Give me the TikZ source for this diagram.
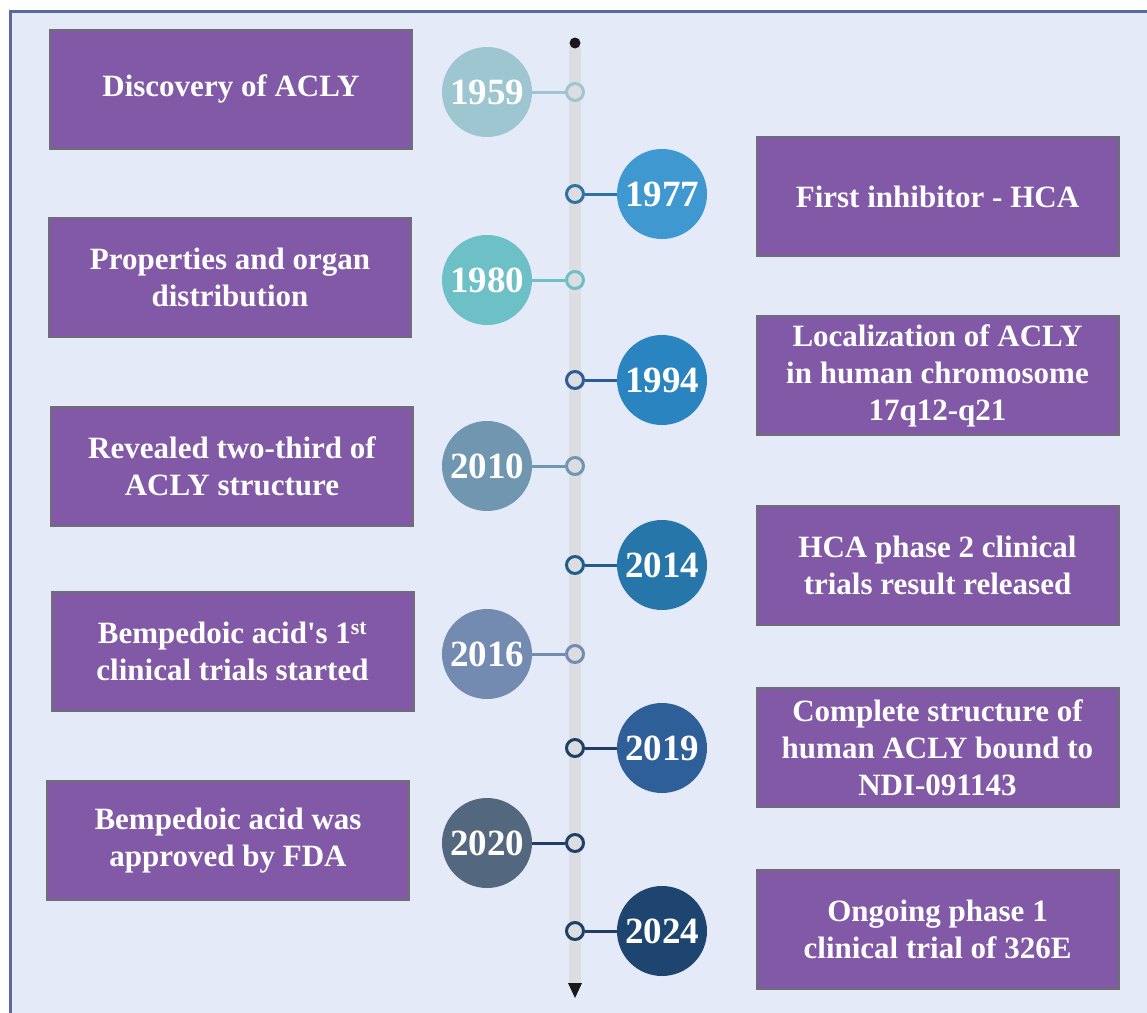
\documentclass[tikz,border=0pt]{standalone}
\usepackage{fontspec}
\setmainfont{Liberation Serif}[Ligatures=TeXOff]
\definecolor{bgcol}{HTML}{E4EAF8}
\definecolor{framecol}{HTML}{5A6A9E}
\definecolor{boxpurple}{HTML}{8259A6}
\definecolor{boxedge}{HTML}{6F6E74}
\definecolor{barcol}{HTML}{DCDDE0}
\definecolor{cA}{HTML}{9DC6D0}
\definecolor{cB}{HTML}{3F98D0}
\definecolor{cBl}{HTML}{2E72A3}
\definecolor{cC}{HTML}{6CC0C6}
\definecolor{cD}{HTML}{2A84C0}
\definecolor{cDl}{HTML}{2D5C96}
\definecolor{cE}{HTML}{7096B0}
\definecolor{cF}{HTML}{2676AA}
\definecolor{cFl}{HTML}{1F5E8A}
\definecolor{cG}{HTML}{738BB0}
\definecolor{cH}{HTML}{2F5F98}
\definecolor{cHl}{HTML}{1F3F68}
\definecolor{cI}{HTML}{53687F}
\definecolor{cIl}{HTML}{1F3F68}
\definecolor{cJ}{HTML}{1E456F}
\definecolor{cJl}{HTML}{1E3F66}
\begin{document}
\begin{tikzpicture}[x=1pt,y=-1pt,
  evbox/.style={draw=boxedge, line width=2pt, fill=boxpurple, minimum width=362pt, minimum height=119pt, text=white, font=\fontsize{31}{37}\selectfont\bfseries, align=center, inner sep=0pt},
  yr/.style={circle, minimum size=90pt, inner sep=0pt, text=white, font=\fontsize{37}{40}\selectfont\bfseries},
  ring/.style={circle, minimum size=17pt, inner sep=0pt, line width=3pt, fill=barcol},
  conn/.style={line width=3pt}]
\useasboundingbox (0,0) rectangle (1147,1012);
\begin{scope}
\clip (0,0) rectangle (1147,1012);
\draw[fill=bgcol, draw=framecol, line width=3pt] (10,11.5) rectangle (1170,1040);
\end{scope}
% timeline bar
\fill[barcol] (569,46) rectangle (581,984);
\node[circle, fill=black!90, minimum size=11pt, inner sep=0pt] (top) at (575,43) {};
\fill[black!90] (568,983) -- (582,983) -- (575,998) -- cycle;
% boxes left
\node[evbox] (b1959) at (231,89) {Discovery of ACLY};
\node[evbox] (b1980) at (230,277) {Properties and organ\\distribution};
\node[evbox] (b2010) at (232,466) {Revealed two-third of\\ACLY structure};
\node[evbox] (b2016) at (232.5,651) {Bempedoic acid's 1\textsuperscript{st}\\clinical trials started};
\node[evbox] (b2020) at (228,840.5) {Bempedoic acid was\\approved by FDA};
% boxes right
\node[evbox] (b1977) at (937.5,196.5) {First inhibitor - HCA};
\node[evbox] (b1994) at (937.5,375.5) {Localization of ACLY\\in human chromosome\\17q12-q21};
\node[evbox] (b2014) at (937.5,565.5) {HCA phase 2 clinical\\trials result released};
\node[evbox] (b2019) at (937.5,747.5) {Complete structure of\\human ACLY bound to\\NDI-091143};
\node[evbox] (b2024) at (937.5,929.5) {Ongoing phase 1\\clinical trial of 326E};
% year circles and rings
\foreach \nm/\yy/\cx/\cc/\lc in {1959/92/487/cA/cA, 1977/194/662/cB/cBl, 1980/280/487/cC/cC, 1994/380/662/cD/cDl, 2010/466/487/cE/cE, 2014/565/662/cF/cFl, 2016/654/487/cG/cG, 2019/748/662/cH/cHl, 2020/843/487/cI/cIl, 2024/931/662/cJ/cJl}{
  \node[yr, fill=\cc] (y\nm) at (\cx,\yy) {\nm};
  \node[ring, draw=\lc] (r\nm) at (575,\yy) {};
  \draw[conn, draw=\lc] (y\nm) -- (r\nm);
}
\end{tikzpicture}
\end{document}
